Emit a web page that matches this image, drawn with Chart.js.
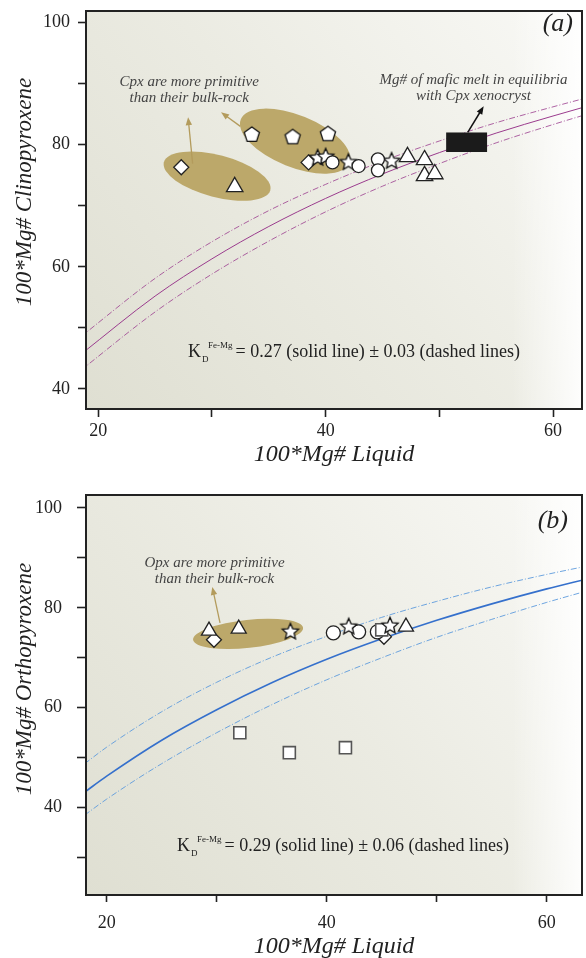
<!DOCTYPE html>
<html>
<head>
<meta charset="utf-8">
<script src="https://cdn.jsdelivr.net/npm/chart.js@4.4.1/dist/chart.umd.min.js"></script>
<style>
  body { margin: 0; background: #fff; }
  .panel { width: 586px; height: 479px; }
  canvas { display: block; }
</style>
</head>
<body>
<div class="panel"><canvas id="cpx-chart" width="586" height="479"></canvas></div>
<div class="panel"><canvas id="opx-chart" width="586" height="479"></canvas></div>
<script>
// Mg# of pyroxene vs Mg# of equilibrium liquid: (a) clinopyroxene, (b) orthopyroxene.
const SERIF = '"Liberation Serif", "Times New Roman", serif';
const INK = '#222';

// ---- panel (a): clinopyroxene ----
const xTicksA = [20, 30, 40, 50, 60];
const yTicksA = [40, 50, 60, 70, 80, 90, 100];
const cpxDiamonds = [[27.3, 76.3], [38.5, 77.1]];
const cpxTriangles = [[32.0, 73.1], [47.2, 78.0], [48.7, 77.5], [48.7, 74.9], [49.6, 75.2]];
const cpxPentagons = [[33.5, 81.6], [37.1, 81.2], [40.2, 81.7]];
const cpxStars = [[39.3, 77.8], [40.0, 78.0], [42.0, 77.1], [45.8, 77.3]];
const cpxCircles = [[40.6, 77.1], [42.9, 76.5], [44.6, 77.6], [44.6, 75.8]];
const liqA = [18.5, 25, 30, 35, 40, 45, 50, 55, 60, 63];
const cpxKd27 = [45.7, 55.2, 61.3, 66.6, 71.2, 75.2, 78.7, 81.9, 84.7, 86.3];
const cpxKd24 = [48.6, 58.1, 64.1, 69.2, 73.5, 77.3, 80.6, 83.6, 86.2, 87.7];
const cpxKd30 = [43.1, 52.6, 58.8, 64.2, 69.0, 73.2, 76.9, 80.3, 83.3, 85.0];
const xenocrystMelt = [50.6, 54.2, 78.8, 82.0]; // liquid Mg# from..to, cpx Mg# from..to

// ---- panel (b): orthopyroxene ----
const xTicksB = [20, 30, 40, 50, 60];
const yTicksB = [30, 40, 50, 60, 70, 80, 90, 100];
const opxTriangles = [[29.3, 75.4], [32.0, 75.8], [47.2, 76.2]];
const opxDiamonds = [[29.75, 73.6], [45.2, 74.2]];
const opxStars = [[36.7, 75.2], [42.0, 76.2], [45.75, 76.4]];
const opxCircles = [[40.6, 75.0], [42.9, 75.2], [44.6, 75.2]];
const opxSquares = [[45.0, 75.6], [32.1, 55.0], [36.6, 51.0], [41.7, 52.0]];
const liqB = [18, 20, 25, 30, 35, 40, 45, 50, 55, 60, 63.5];
const opxKd29 = [43.1, 46.3, 53.5, 59.6, 65.0, 69.7, 73.8, 77.5, 80.8, 83.8, 85.7];
const opxKd23 = [48.8, 52.1, 59.2, 65.1, 70.1, 74.3, 78.1, 81.3, 84.2, 86.7, 88.3];
const opxKd35 = [38.5, 41.7, 48.8, 55.0, 60.6, 65.6, 70.0, 74.1, 77.7, 81.1, 83.3];

function shapeCanvas(r, drawPath) {
    const c = document.createElement('canvas');
    const size = 2 * Math.ceil(r + 2);
    c.width = size;
    c.height = size;
    const ctx = c.getContext('2d');
    ctx.translate(size / 2, size / 2);
    ctx.beginPath();
    drawPath(ctx, r);
    ctx.closePath();
    ctx.fillStyle = '#fff';
    ctx.fill();
    ctx.strokeStyle = '#111';
    ctx.lineWidth = 1.3;
    ctx.stroke();
    return c;
}

function pentagonPath(ctx, r) {
    for (let i = 0; i < 5; i += 1) {
        const a = -Math.PI / 2 + i * 2 * Math.PI / 5;
        ctx.lineTo(r * Math.cos(a), r * Math.sin(a));
    }
}

function starPath(ctx, r) {
    for (let i = 0; i < 10; i += 1) {
        const a = -Math.PI / 2 + i * Math.PI / 5;
        const rr = i % 2 ? r * 0.46 : r;
        ctx.lineTo(rr * Math.cos(a), rr * Math.sin(a));
    }
}

const pentagonMark = shapeCanvas(8, pentagonPath);
const starMark = shapeCanvas(8.5, starPath);

function marks(pairs, style, radius, extra) {
    return Object.assign({
        data: pairs.map(([x, y]) => ({ x, y })),
        pointStyle: style,
        pointRadius: radius,
        pointBackgroundColor: '#fff',
        pointBorderColor: '#222',
        pointBorderWidth: 1.3,
        showLine: false
    }, extra || {});
}

function curve(xs, ys, color, width, dash) {
    return {
        data: xs.map((x, i) => ({ x, y: ys[i] })),
        showLine: true,
        pointRadius: 0,
        borderColor: color,
        borderWidth: width,
        borderDash: dash || [],
        cubicInterpolationMode: 'monotone',
        fill: false
    };
}

function axis(min, max, ticks, tickLength, padding, fit) {
    return {
        type: 'linear',
        min,
        max,
        afterBuildTicks: s => { s.ticks = ticks.map(value => ({ value })); },
        afterFit: s => {
            fit(s);
            // keep the plot frame where the layout padding puts it
            s.paddingTop = 0;
            s.paddingBottom = 0;
            s.paddingLeft = 0;
            s.paddingRight = 0;
        },
        grid: { drawOnChartArea: false, drawTicks: true, tickLength, tickColor: INK, tickWidth: 1.6 },
        border: { display: true, color: INK, width: 2 },
        ticks: {
            color: INK,
            padding,
            autoSkip: false,
            maxRotation: 0,
            font: { family: SERIF, size: 18 },
            callback: v => (v % 20 === 0 ? String(v) : '')
        }
    };
}

function arrow(ctx, x0, y0, x1, y1, color, width) {
    const ang = Math.atan2(y1 - y0, x1 - x0);
    ctx.strokeStyle = color;
    ctx.fillStyle = color;
    ctx.lineWidth = width;
    ctx.beginPath();
    ctx.moveTo(x0, y0);
    ctx.lineTo(x1 - Math.cos(ang) * 5, y1 - Math.sin(ang) * 5);
    ctx.stroke();
    ctx.beginPath();
    ctx.moveTo(x1, y1);
    ctx.lineTo(x1 - Math.cos(ang) * 8 - Math.sin(ang) * 3.2, y1 - Math.sin(ang) * 8 + Math.cos(ang) * 3.2);
    ctx.lineTo(x1 - Math.cos(ang) * 8 + Math.sin(ang) * 3.2, y1 - Math.sin(ang) * 8 - Math.cos(ang) * 3.2);
    ctx.closePath();
    ctx.fill();
}

const decor = {
    id: 'decor',
    beforeDraw(chart, args, o) {
        const { ctx, chartArea: a } = chart;
        ctx.save();
        const g = ctx.createLinearGradient(a.left, a.bottom, a.right, a.top);
        g.addColorStop(0, '#dfdfd2');
        g.addColorStop(0.5, '#ebebe2');
        g.addColorStop(1, '#f9f9f6');
        ctx.fillStyle = g;
        ctx.fillRect(a.left, a.top, a.width, a.height);
        const edge = ctx.createLinearGradient(a.right - 70, 0, a.right, 0);
        edge.addColorStop(0, 'rgba(255,255,255,0)');
        edge.addColorStop(1, 'rgba(255,255,255,0.9)');
        ctx.fillStyle = edge;
        ctx.fillRect(a.right - 70, a.top, 70, a.height);
        ctx.restore();
    },
    beforeDatasetsDraw(chart, args, o) {
        const { ctx, chartArea: a, scales: { x, y } } = chart;
        ctx.save();
        ctx.beginPath();
        ctx.rect(a.left, a.top, a.width, a.height);
        ctx.clip();
        ctx.fillStyle = '#bca86a';
        (o.blobs || []).forEach(b => {
            const x0 = x.getPixelForValue(b.from[0]);
            const y0 = y.getPixelForValue(b.from[1]);
            const x1 = x.getPixelForValue(b.to[0]);
            const y1 = y.getPixelForValue(b.to[1]);
            ctx.beginPath();
            ctx.ellipse((x0 + x1) / 2, (y0 + y1) / 2, Math.hypot(x1 - x0, y1 - y0) / 2, b.half,
                Math.atan2(y1 - y0, x1 - x0), 0, 2 * Math.PI);
            ctx.fill();
        });
        ctx.restore();
    },
    afterDatasetsDraw(chart, args, o) {
        const { ctx, scales: { x, y } } = chart;
        ctx.save();
        if (o.box) {
            const [bx0, bx1, by0, by1] = o.box;
            const px0 = x.getPixelForValue(bx0), px1 = x.getPixelForValue(bx1);
            const py0 = y.getPixelForValue(by1), py1 = y.getPixelForValue(by0);
            ctx.fillStyle = '#1b1b1b';
            ctx.fillRect(px0, py0, px1 - px0, py1 - py0);
        }
        (o.arrows || []).forEach(r => {
            arrow(ctx, x.getPixelForValue(r.from[0]), y.getPixelForValue(r.from[1]),
                x.getPixelForValue(r.to[0]), y.getPixelForValue(r.to[1]), r.color, r.width);
        });
        ctx.fillStyle = '#444';
        ctx.textAlign = 'center';
        ctx.textBaseline = 'middle';
        ctx.font = 'italic 15px ' + SERIF;
        (o.notes || []).forEach(n => {
            const cx = x.getPixelForValue(n.at[0]);
            const cy = y.getPixelForValue(n.at[1]);
            n.lines.forEach((t, i) => ctx.fillText(t, cx, cy + i * 16));
        });
        ctx.restore();
    },
    afterDraw(chart, args, o) {
        const { ctx, chartArea: a, scales: { x, y } } = chart;
        ctx.save();
        ctx.strokeStyle = INK;
        ctx.lineWidth = 2;
        ctx.strokeRect(a.left, a.top, a.width, a.height);

        // panel tag
        ctx.fillStyle = INK;
        ctx.font = 'italic 26px ' + SERIF;
        ctx.textAlign = 'right';
        ctx.textBaseline = 'alphabetic';
        ctx.fillText(o.tag, a.right - o.tagDx, a.top + o.tagDy);

        // Kd note: K, subscript D, superscript Fe-Mg, then the rest
        const kx = x.getPixelForValue(o.kd.at[0]);
        const ky = y.getPixelForValue(o.kd.at[1]);
        ctx.textAlign = 'left';
        ctx.font = '18px ' + SERIF;
        ctx.fillText('K', kx, ky);
        const kw = ctx.measureText('K').width;
        ctx.font = '9px ' + SERIF;
        ctx.fillText('D', kx + kw + 1, ky + 5);
        ctx.fillText('Fe-Mg', kx + kw + 7, ky - 9);
        const sw = ctx.measureText('Fe-Mg').width;
        ctx.font = '18px ' + SERIF;
        ctx.fillText(o.kd.text, kx + kw + 7 + sw + 3, ky);

        // axis titles
        ctx.font = 'italic 24px ' + SERIF;
        ctx.textAlign = 'center';
        ctx.textBaseline = 'middle';
        ctx.fillText(o.xTitle, (a.left + a.right) / 2, a.bottom + o.xTitleDy);
        ctx.translate(25, (a.top + a.bottom) / 2 + o.yTitleDy);
        ctx.rotate(-Math.PI / 2);
        ctx.font = 'italic 23px ' + SERIF;
        ctx.fillText(o.yTitle, 0, 0);
        ctx.restore();
    }
};

const GOLD = '#b39b5c';
const PURPLE = '#9b3c8e';

new Chart(document.getElementById('cpx-chart'), {
    type: 'scatter',
    data: {
        datasets: [
            marks(cpxTriangles, 'triangle', 9.5),
            marks(cpxCircles, 'circle', 6.5),
            marks(cpxStars, starMark, 8),
            marks(cpxDiamonds, 'rectRot', 7.5),
            marks(cpxPentagons, pentagonMark, 7),
            curve(liqA, cpxKd27, PURPLE, 1),
            curve(liqA, cpxKd24, PURPLE, 0.8, [6, 2, 1, 2]),
            curve(liqA, cpxKd30, PURPLE, 0.8, [6, 2, 1, 2])
        ]
    },
    options: {
        responsive: false,
        animation: false,
        layout: { autoPadding: false, padding: { top: 11, right: 4, left: 0, bottom: 0 } },
        scales: {
            x: axis(18.92, 62.55, xTicksA, 8, 3, s => { s.height = 70; }),
            y: axis(36.7, 101.9, yTicksA, 8, 8, s => { s.width = 86; })
        },
        plugins: {
            legend: { display: false },
            tooltip: { enabled: false },
            decor: {
                tag: '(a)', tagDx: 9, tagDy: 20,
                xTitle: '100*Mg# Liquid', xTitleDy: 46,
                yTitle: '100*Mg# Clinopyroxene', yTitleDy: -18,
                kd: { at: [27.9, 45.2], text: '= 0.27 (solid line) \u00b1 0.03 (dashed lines)' },
                box: xenocrystMelt,
                blobs: [
                    { from: [25.77, 77.13], to: [35.13, 72.55], half: 21 },
                    { from: [32.54, 84.16], to: [42.09, 76.99], half: 26 }
                ],
                arrows: [
                    { from: [28.3, 76.9], to: [27.9, 84.5], color: GOLD, width: 1.3 },
                    { from: [32.5, 83.0], to: [30.8, 85.3], color: GOLD, width: 1.3 },
                    { from: [52.5, 82.0], to: [53.9, 86.3], color: '#111', width: 1.5 }
                ],
                notes: [
                    { at: [28.0, 90.2], lines: ['Cpx are more primitive', 'than their bulk-rock'] },
                    { at: [53.0, 90.6], lines: ['Mg# of mafic melt in equilibria', 'with Cpx xenocryst'] }
                ]
            }
        }
    },
    plugins: [decor]
});

new Chart(document.getElementById('opx-chart'), {
    type: 'scatter',
    data: {
        datasets: [
            marks(opxTriangles, 'triangle', 8.7),
            marks(opxStars, starMark, 8),
            marks(opxSquares, 'rect', 8.5, { pointBorderColor: '#555', pointBorderWidth: 1.6 }),
            marks(opxCircles, 'circle', 7),
            marks(opxDiamonds, 'rectRot', 7.5),
            curve(liqB, opxKd29, '#3570cc', 1.6),
            curve(liqB, opxKd23, '#5e9bdc', 0.9, [6, 2, 1, 2]),
            curve(liqB, opxKd35, '#5e9bdc', 0.9, [6, 2, 1, 2])
        ]
    },
    options: {
        responsive: false,
        animation: false,
        layout: { autoPadding: false, padding: { top: 16, right: 4, left: 0, bottom: 0 } },
        scales: {
            x: axis(18.12, 63.2, xTicksB, 7, 10, s => { s.height = 63; }),
            y: axis(22.5, 102.6, yTicksB, 9, 15, s => { s.width = 86; })
        },
        plugins: {
            legend: { display: false },
            tooltip: { enabled: false },
            decor: {
                tag: '(b)', tagDx: 14, tagDy: 33,
                xTitle: '100*Mg# Liquid', xTitleDy: 52,
                yTitle: '100*Mg# Orthopyroxene', yTitleDy: -16,
                kd: { at: [26.4, 31.3], text: '= 0.29 (solid line) \u00b1 0.06 (dashed lines)' },
                blobs: [
                    { from: [27.85, 73.6], to: [37.85, 76.0], half: 14 }
                ],
                arrows: [
                    { from: [30.3, 77.0], to: [29.6, 84.2], color: GOLD, width: 1.3 }
                ],
                notes: [
                    { at: [29.8, 89.0], lines: ['Opx are more primitive', 'than their bulk-rock'] }
                ]
            }
        }
    },
    plugins: [decor]
});
</script>
</body>
</html>
